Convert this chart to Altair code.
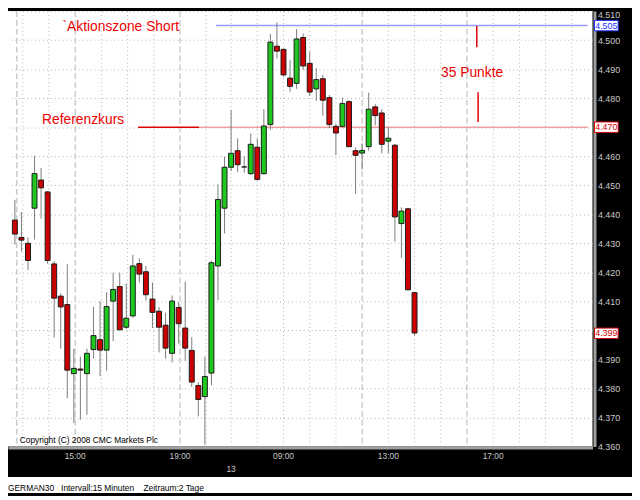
import altair as alt
import pandas as pd

# ---------------- data ----------------
candle_idx = list(range(62))
opens = [4438, 4432, 4430, 4442.1, 4451.8, 4447.7, 4422.9, 4411.8, 4408.9, 4385.1,
         4386.7, 4385.1, 4393.4, 4396.8, 4393.2, 4410.1, 4415.1, 4401.1, 4405, 4423,
         4420.2, 4410.8, 4406.6, 4401.8, 4392.1, 4407.9, 4400.8, 4393.1, 4381, 4377.2,
         4385.3, 4422.2, 4442.1, 4456.2, 4461.9, 4456.3, 4454, 4463.1, 4454, 4470.9,
         4497.9, 4496.8, 4486.9, 4485.1, 4500.9, 4492, 4483.2, 4486.7, 4480.2, 4470.3,
         4470.3, 4478.8, 4461.9, 4461.1, 4463.3, 4477, 4474.9, 4465.2, 4463.8, 4436.8,
         4441.9, 4413]
highs = [4445, 4440.8, 4432, 4460.1, 4456, 4448, 4423.9, 4412.8, 4422.8, 4393.7,
         4391, 4393.7, 4408.1, 4410.1, 4413.2, 4419.9, 4419.9, 4416.1, 4426.1, 4424.8,
         4422.2, 4416.5, 4408.1, 4406.1, 4412, 4409.8, 4416.8, 4397.7, 4382.2, 4391,
         4424, 4450.3, 4459.9, 4475.9, 4466.1, 4460, 4467.8, 4466.1, 4476.2, 4502.1,
         4506.1, 4497.2, 4493.1, 4503.8, 4502.2, 4496.1, 4490.3, 4488, 4481.1, 4471.2,
         4480.2, 4479.3, 4463, 4464.4, 4481.9, 4477.9, 4476.2, 4470, 4464.2, 4442.4,
         4442.2, 4413.2]
lows = [4429.6, 4427.2, 4420.8, 4431.3, 4438.5, 4422.9, 4397.5, 4393.7, 4376.6, 4368.1,
        4369.2, 4370.9, 4390.3, 4384.2, 4386.1, 4396.3, 4400.2, 4400.5, 4404.3, 4416.5,
        4410.4, 4400.8, 4392.4, 4390.3, 4389, 4395.5, 4389.5, 4380.5, 4370.4, 4360.6,
        4381.1, 4410.4, 4433.4, 4454.9, 4454.5, 4454.3, 4453.6, 4451.6, 4453.6, 4469.1,
        4493.7, 4487.4, 4482.2, 4483.2, 4489.7, 4480.7, 4479, 4474, 4469.7, 4460.5,
        4470, 4463.1, 4447, 4455.4, 4461.9, 4470.6, 4461, 4461, 4430.6, 4425,
        4413.8, 4398.2]
closes = [4433.2, 4431.1, 4424.1, 4454, 4449.1, 4424.1, 4411.1, 4408.1, 4386.3, 4386.9,
          4386.3, 4392.1, 4398.2, 4393.2, 4408.2, 4414.1, 4400.2, 4404.2, 4422.2, 4419.4,
          4412.3, 4406.2, 4401.1, 4393.9, 4410.1, 4402.3, 4393.9, 4382.2, 4376.2, 4384.1,
          4423.3, 4445.1, 4456.2, 4461, 4457.1, 4456.3, 4464.1, 4452, 4470.4, 4499.3,
          4496.2, 4488, 4484.1, 4500.4, 4491.1, 4482.1, 4486.4, 4479.3, 4470.9, 4468,
          4478.2, 4463.3, 4460.3, 4462, 4476.2, 4474, 4464.1, 4466.2, 4439.1, 4441.1,
          4414, 4399.1]

# y axis tick values
y_ticks = list(range(4360, 4511, 10))

# time axis (positions in candle units) and labels
time_pos = [9.2, 25.2, 41.0, 57.0, 73.0]
time_labels = ["15:00", "19:00", "09:00", "13:00", "17:00"]
day_pos = [33.0]
day_labels = ["13"]

# vertical grid lines (candle units)
hour_grid = [1.2, 5.2, 13.2, 17.2, 21.2, 29.2, 33, 37, 41, 45, 49, 57, 61, 65, 73, 77, 81, 85]
dash_grid = [0.3, 9.2, 25.2, 53, 69]

# annotations
note_x = [7.26, 4.15, 65.04]
note_y = [4504.6, 4472.3, 4488.8]
note_text = ["`Aktionszone Short", "Referenzkurs", "35 Punkte"]

level_values = [4505, 4470, 4399]
level_colors = ["#1a2cff", "#e00000", "#d00000"]

line_x = [30.7, 18.8, 28.1]
line_x2 = [87.41, 28.1, 87.41]
line_y = [4505, 4470, 4470]
line_color = ["#9a9aff", "#dd0000", "#ec7474"]
line_width = [1.5, 1.6, 1.0]

span_x = [70.5, 70.7]
span_y = [4504.9, 4482.0]
span_y2 = [4497.5, 4471.8]

copyright_text = "Copyright (C) 2008 CMC Markets Plc"
footer_text = "GERMAN30\u00a0\u00a0\u00a0Intervall:15 Minuten\u00a0\u00a0\u00a0\u00a0Zeitraum:2 Tage"

# ---------------- chart ----------------
FONT = "Liberation Sans"
W, H = 592, 441

df = pd.DataFrame({"i": candle_idx, "open": opens, "high": highs, "low": lows, "close": closes})
df["dir"] = ["up" if c >= o else "down" for o, c in zip(opens, closes)]

XS = alt.Scale(domain=[-0.296, 87.41], nice=False, zero=False)
YS = alt.Scale(domain=[4360, 4510], nice=False, zero=False)

# axis labels hidden where a highlighted level box covers them
hidden = [t for t in y_ticks if any(abs(t - lv) < 3 for lv in level_values)]
hide_test = " || ".join(f"datum.value == {t}" for t in hidden) or "false"

xa = alt.Axis(orient="bottom", labels=False, ticks=False, grid=False, title=None,
              domainColor="#a0a0a0", domainWidth=3, offset=1, zindex=0)
ya = alt.Axis(orient="right", values=y_ticks, title=None, ticks=False,
              labelExpr=f"({hide_test}) ? '' : replace(format(datum.value, ','), ',', '.')",
              labelColor="#c8c8c8", labelFont=FONT, labelFontSize=9, labelPadding=3,
              labelBaseline={"condition": {"test": "datum.value >= 4510", "value": "top"}, "value": "middle"},
              domainColor="#a0a0a0", domainWidth=3, offset=2,
              grid=True, gridColor="#b4b4b4", gridDash=[1, 3], zindex=0)


def X(field, **kw):
    return alt.X(field, scale=XS, axis=xa, **kw)


def Y(field, **kw):
    return alt.Y(field, scale=YS, axis=ya, **kw)


grid_h = alt.Chart(pd.DataFrame({"g": hour_grid})).mark_rule(
    color="#b4b4b4", strokeDash=[1, 3], strokeWidth=1).encode(x=X("g:Q"))
grid_d = alt.Chart(pd.DataFrame({"g": dash_grid})).mark_rule(
    color="#b4b4b4", strokeDash=[6, 3], strokeWidth=1).encode(x=X("g:Q"))

lines_df = pd.DataFrame({"x": line_x, "x2": line_x2, "y": line_y, "c": line_color, "w": line_width})
lines = alt.Chart(lines_df).mark_rule().encode(
    x=X("x:Q"), x2="x2:Q", y=Y("y:Q"),
    color=alt.Color("c:N", scale=None),
    strokeWidth=alt.StrokeWidth("w:Q", scale=None))

spans = alt.Chart(pd.DataFrame({"x": span_x, "y": span_y, "y2": span_y2})).mark_rule(
    color="#e00000", strokeWidth=1.5).encode(x=X("x:Q"), y=Y("y:Q"), y2="y2:Q")

wicks = alt.Chart(df).mark_rule(color="#7c7c7c", strokeWidth=1).encode(
    x=X("i:Q"), y=Y("low:Q"), y2="high:Q")

bodies = alt.Chart(df).mark_bar(size=5, stroke="#1a1a1a", strokeWidth=1).encode(
    x=X("i:Q"), y=Y("open:Q"), y2="close:Q",
    color=alt.Color("dir:N", scale=alt.Scale(domain=["up", "down"], range=["#1ec81e", "#cc0000"]), legend=None))

notes = alt.Chart(pd.DataFrame({"x": note_x, "y": note_y, "t": note_text})).mark_text(
    align="left", baseline="middle", font=FONT, fontSize=14, color="#ee0000").encode(
    x=X("x:Q"), y=Y("y:Q"), text="t:N")

copyright = alt.Chart(pd.DataFrame({"x": [0.74], "y": [4362.4], "t": [copyright_text]})).mark_text(
    align="left", baseline="middle", font=FONT, fontSize=8.5, color="#000000").encode(
    x=X("x:Q"), y=Y("y:Q"), text="t:N")

times = alt.Chart(pd.DataFrame({"x": time_pos, "t": time_labels})).mark_text(
    align="center", baseline="middle", font=FONT, fontSize=8.5, color="#c8c8c8", dy=10).encode(
    x=X("x:Q"), y=alt.Y(datum=4360, scale=YS, axis=ya), text="t:N")

days = alt.Chart(pd.DataFrame({"x": day_pos, "t": day_labels})).mark_text(
    align="center", baseline="middle", font=FONT, fontSize=8.5, color="#c8c8c8", dy=22.5).encode(
    x=X("x:Q"), y=alt.Y(datum=4360, scale=YS, axis=ya), text="t:N")

lv = pd.DataFrame({"v": level_values, "c": level_colors})
lv["lo"] = lv["v"] - 1.8
lv["hi"] = lv["v"] + 1.8
lv["t"] = [f"{v:,}".replace(",", ".") for v in level_values]

boxes = alt.Chart(lv).mark_rect(fill="white", strokeWidth=1).encode(
    x=alt.value(W + 2), x2=alt.value(W + 26), y=Y("lo:Q"), y2="hi:Q",
    stroke=alt.Stroke("c:N", scale=None))
box_text = alt.Chart(lv).mark_text(align="center", baseline="middle", font=FONT, fontSize=9).encode(
    x=alt.value(W + 14), y=Y("v:Q"), text="t:N", color=alt.Color("c:N", scale=None))

footer_bg = alt.Chart(pd.DataFrame({"a": [0]})).mark_rect(fill="white").encode(
    x=alt.value(0), x2=alt.value(W + 40), y=alt.value(H + 31), y2=alt.value(H + 47))
footer = alt.Chart(pd.DataFrame({"t": [footer_text]})).mark_text(
    align="left", baseline="middle", font=FONT, fontSize=8.5, color="#000000").encode(
    x=alt.value(0), y=alt.value(H + 42), text="t:N")

chart = alt.layer(
    grid_h, grid_d, lines, spans, wicks, bodies, notes, copyright, times, days,
    boxes, box_text, footer_bg, footer
).properties(
    width=W, height=H,
    autosize=alt.AutoSizeParams(type="none"),
    padding={"left": 0, "top": 0, "right": 40, "bottom": 47},
    background="black",
).configure_view(fill="white", stroke=None)

chart.save("out.html", embed_options={"renderer": "svg", "actions": False})
